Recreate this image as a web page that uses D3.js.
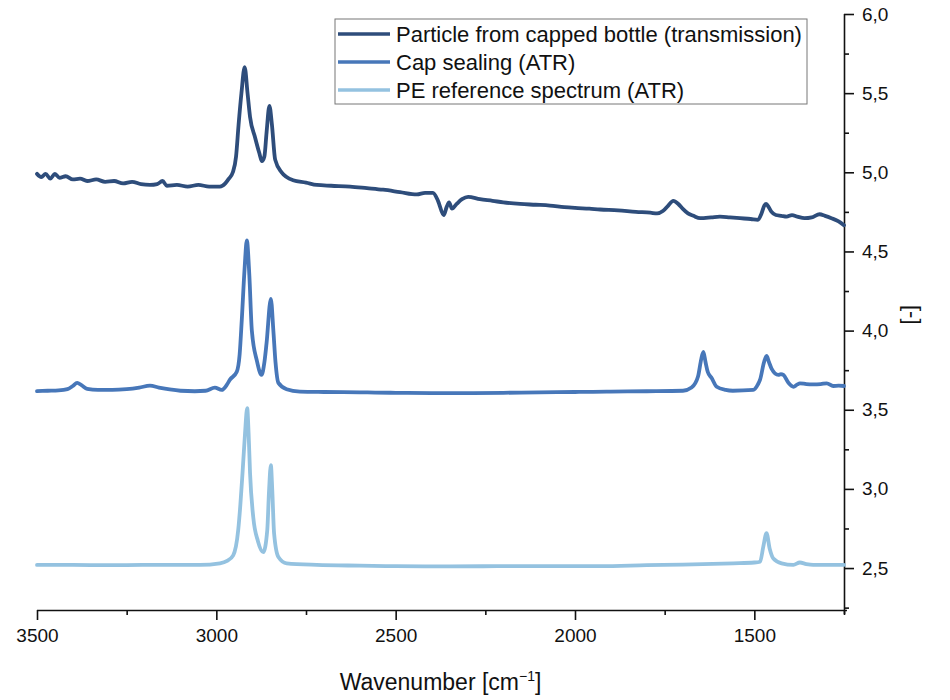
<!DOCTYPE html>
<html>
<head>
<meta charset="utf-8">
<script src="https://cdn.jsdelivr.net/npm/d3@7.9.0/dist/d3.min.js"></script>
<style>
  body { margin: 0; background: #fff; }
  text { font-family: "Liberation Sans", Arial, sans-serif; fill: #111; }
</style>
</head>
<body>
<div id="chart"></div>
<script>
// series: [wavenumber, value]
const particle = [
  [3500,4.99],[3488,4.97],[3476,4.99],[3463,4.96],[3450,4.99],[3437,4.965],[3420,4.975],[3400,4.955],
  [3380,4.96],[3360,4.945],[3335,4.955],[3310,4.94],[3285,4.945],[3260,4.93],[3235,4.94],[3210,4.925],
  [3185,4.92],[3165,4.925],[3150,4.945],[3138,4.915],[3110,4.92],[3080,4.91],[3050,4.92],[3020,4.91],
  [2990,4.91],[2975,4.93],[2965,4.96],[2954,5.0],[2945,5.1],[2938,5.3],[2930,5.5],[2921,5.665],
  [2913,5.5],[2906,5.35],[2892,5.22],[2880,5.12],[2873,5.07],[2866,5.1],[2860,5.25],[2852,5.42],
  [2845,5.3],[2836,5.08],[2818,5.0],[2786,4.95],[2750,4.935],[2720,4.92],[2680,4.915],[2627,4.91],
  [2580,4.9],[2535,4.89],[2488,4.875],[2441,4.86],[2418,4.87],[2396,4.87],[2382,4.82],[2366,4.73],
  [2358,4.78],[2351,4.81],[2343,4.77],[2330,4.8],[2315,4.83],[2298,4.845],[2265,4.83],[2230,4.82],
  [2200,4.81],[2153,4.8],[2110,4.795],[2070,4.79],[2030,4.78],[2000,4.775],[1960,4.77],[1930,4.765],
  [1880,4.76],[1830,4.75],[1790,4.745],[1771,4.74],[1755,4.755],[1740,4.79],[1726,4.82],[1712,4.8],
  [1700,4.77],[1685,4.74],[1670,4.725],[1651,4.71],[1620,4.715],[1596,4.72],[1568,4.715],[1540,4.71],
  [1510,4.705],[1490,4.70],[1480,4.74],[1472,4.79],[1467,4.80],[1460,4.78],[1452,4.75],[1440,4.73],
  [1425,4.725],[1410,4.72],[1395,4.73],[1380,4.72],[1360,4.71],[1340,4.715],[1318,4.735],[1303,4.725],
  [1285,4.71],[1265,4.69],[1250,4.665]
];

const capSealing = [
  [3500,3.618],[3470,3.62],[3440,3.622],[3415,3.63],[3400,3.65],[3388,3.67],[3376,3.655],[3360,3.632],
  [3330,3.625],[3290,3.625],[3250,3.63],[3215,3.64],[3185,3.652],[3160,3.64],[3130,3.628],[3100,3.62],
  [3060,3.617],[3030,3.62],[3004,3.64],[2985,3.625],[2970,3.66],[2962,3.69],[2943,3.74],[2935,3.85],
  [2929,4.07],[2921,4.4],[2915,4.57],[2908,4.35],[2901,4.0],[2887,3.81],[2874,3.72],[2866,3.8],
  [2860,3.92],[2848,4.2],[2841,4.0],[2835,3.8],[2827,3.67],[2804,3.63],[2767,3.615],[2700,3.612],
  [2600,3.61],[2500,3.607],[2400,3.605],[2300,3.605],[2200,3.607],[2100,3.61],[2000,3.612],[1900,3.615],
  [1800,3.617],[1699,3.62],[1675,3.64],[1657,3.71],[1648,3.82],[1642,3.865],[1636,3.8],[1630,3.74],
  [1619,3.70],[1605,3.645],[1580,3.625],[1560,3.62],[1503,3.625],[1490,3.66],[1484,3.69],[1473,3.8],
  [1466,3.84],[1459,3.8],[1452,3.76],[1433,3.72],[1426,3.725],[1419,3.72],[1405,3.67],[1391,3.645],
  [1380,3.66],[1373,3.667],[1355,3.662],[1336,3.66],[1315,3.662],[1298,3.667],[1280,3.65],[1265,3.652],
  [1250,3.65]
];

const peReference = [
  [3500,2.52],[3400,2.52],[3300,2.518],[3200,2.52],[3100,2.52],[3046,2.52],[2990,2.53],[2970,2.545],
  [2953,2.58],[2939,2.74],[2933,2.9],[2927,3.10],[2920,3.35],[2914,3.51],[2910,3.35],[2906,3.10],
  [2897,2.82],[2884,2.67],[2869,2.60],[2858,2.74],[2853,2.99],[2848,3.15],[2844,2.99],[2839,2.72],
  [2827,2.57],[2804,2.53],[2720,2.52],[2600,2.515],[2500,2.512],[2350,2.51],[2200,2.512],[2050,2.512],
  [1930,2.512],[1800,2.518],[1700,2.522],[1559,2.53],[1500,2.535],[1484,2.54],[1475,2.635],[1466,2.72],
  [1457,2.62],[1447,2.56],[1424,2.53],[1391,2.52],[1373,2.535],[1355,2.525],[1336,2.52],[1300,2.52],
  [1250,2.52]
];

const seriesNames = [
  'Particle from capped bottle (transmission)',
  'Cap sealing (ATR)',
  'PE reference spectrum (ATR)'
];
const seriesColors = ['#2e4d7b', '#4777b9', '#94c2e0'];

const xMajor = [3500, 3000, 2500, 2000, 1500];
const xMinor = [3250, 2750, 2250, 1750, 1250];
const yMajor = [2.5, 3.0, 3.5, 4.0, 4.5, 5.0, 5.5, 6.0];
const yMinor = [2.25, 2.75, 3.25, 3.75, 4.25, 4.75, 5.25, 5.75];

const width = 950, height = 700;
const plot = { left: 37, right: 844, top: 14, bottom: 610 };

const svg = d3.select('#chart').append('svg')
  .attr('width', width)
  .attr('height', height);

const xScale = d3.scaleLinear().domain([3500, 1250]).range([plot.left, plot.right]);
const yScale = d3.scaleLinear().domain([2.235, 6]).range([plot.bottom, plot.top]);

const commaFmt = d => d3.format('.1f')(d).replace('.', ',');

// x axis (bottom)
const gx = svg.append('g').attr('transform', `translate(0,${plot.bottom})`);
gx.call(d3.axisBottom(xScale).tickValues(xMajor).tickSize(10).tickPadding(9).tickFormat(d3.format('d')));
gx.append('g').call(d3.axisBottom(xScale).tickValues(xMinor).tickSize(5).tickFormat(''))
  .select('.domain').remove();
gx.selectAll('text').style('font-size', '19px').attr('fill', '#111');
gx.selectAll('line, path').attr('stroke', '#111').attr('stroke-width', 1.6);
gx.select('.domain').attr('d', `M${plot.left},0.5H${plot.right + 3}`);

// y axis (right)
const gy = svg.append('g').attr('transform', `translate(${plot.right},0)`);
gy.call(d3.axisRight(yScale).tickValues(yMajor).tickSize(10).tickPadding(8).tickFormat(commaFmt));
gy.append('g').call(d3.axisRight(yScale).tickValues(yMinor).tickSize(5).tickFormat(''))
  .select('.domain').remove();
gy.selectAll('text').style('font-size', '19px').attr('fill', '#111');
gy.selectAll('line, path').attr('stroke', '#111').attr('stroke-width', 1.6);
gy.select('.domain').attr('d', `M0.5,${plot.top}V${plot.bottom + 4}`);

// axis titles
const xt = svg.append('text')
  .attr('x', (plot.left + plot.right) / 2)
  .attr('y', 690)
  .attr('text-anchor', 'middle')
  .style('font-size', '23px');
xt.append('tspan').text('Wavenumber [cm');
xt.append('tspan').attr('dy', -9).style('font-size', '14px').text('\u22121');
xt.append('tspan').attr('dy', 9).text(']');

svg.append('text')
  .attr('transform', `translate(905,${yScale(4.1)}) rotate(90)`)
  .attr('text-anchor', 'middle')
  .style('font-size', '22px')
  .text('[-]');

// spectra
const line = d3.line()
  .x(d => xScale(d[0]))
  .y(d => yScale(d[1]))
  .curve(d3.curveMonotoneX);

const allSeries = [particle, capSealing, peReference];
svg.append('g').selectAll('path')
  .data(allSeries.map((s, i) => ({ s, i })).reverse())
  .join('path')
  .attr('d', d => line(d.s))
  .attr('fill', 'none')
  .attr('stroke', d => seriesColors[d.i])
  .attr('stroke-width', 3.8)
  .attr('stroke-linejoin', 'round')
  .attr('stroke-linecap', 'round');

// legend
const legend = svg.append('g').attr('transform', 'translate(335,19)');
legend.append('rect')
  .attr('width', 472).attr('height', 85)
  .attr('fill', '#fff')
  .attr('stroke', '#777')
  .attr('stroke-width', 1);

const rows = legend.selectAll('g.row')
  .data(seriesNames)
  .join('g')
  .attr('class', 'row')
  .attr('transform', (d, i) => `translate(0,${15 + i * 28})`);
rows.append('line')
  .attr('x1', 3).attr('x2', 55)
  .attr('stroke', (d, i) => seriesColors[i])
  .attr('stroke-width', 3.6);
rows.append('text')
  .attr('x', 61)
  .attr('dy', '0.35em')
  .style('font-size', '22px')
  .text(d => d);
</script>
</body>
</html>
